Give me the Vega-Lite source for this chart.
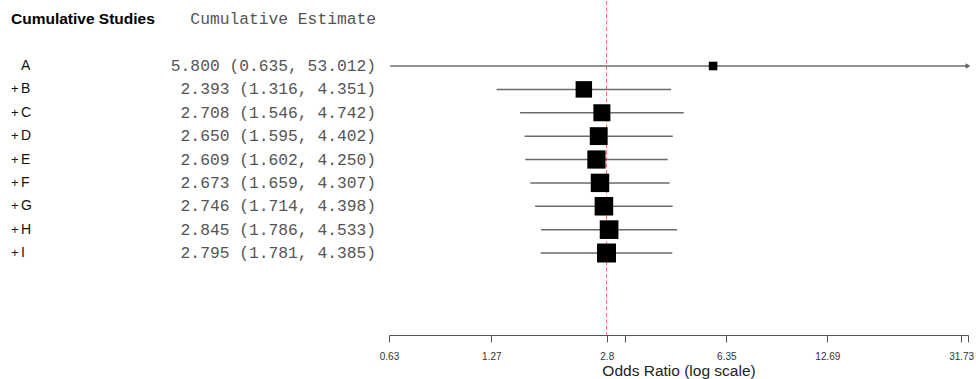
{
  "$schema": "https://vega.github.io/schema/vega-lite/v6.json",
  "background": "white",
  "padding": 0,
  "autosize": {"type": "pad"},
  "bounds": "flush",
  "spacing": 2,
  "config": {"view": {"stroke": null}},
  "data": {
    "values": [
      {"study": "A", "est": 5.800, "lower": 0.635, "upper": 53.012},
      {"study": "B", "est": 2.393, "lower": 1.316, "upper": 4.351},
      {"study": "C", "est": 2.708, "lower": 1.546, "upper": 4.742},
      {"study": "D", "est": 2.650, "lower": 1.595, "upper": 4.402},
      {"study": "E", "est": 2.609, "lower": 1.602, "upper": 4.250},
      {"study": "F", "est": 2.673, "lower": 1.659, "upper": 4.307},
      {"study": "G", "est": 2.746, "lower": 1.714, "upper": 4.398},
      {"study": "H", "est": 2.845, "lower": 1.786, "upper": 4.533},
      {"study": "I", "est": 2.795, "lower": 1.781, "upper": 4.385}
    ]
  },
  "transform": [
    {"window": [{"op": "row_number", "as": "k"}]},
    {"calculate": "datum.k == 1 ? '' : '+'", "as": "prefix"},
    {"calculate": "format(datum.est, '.3f') + ' (' + format(datum.lower, '.3f') + ', ' + format(datum.upper, '6.3f') + ')'", "as": "estText"},
    {"calculate": "1 / log(datum.upper / datum.lower)", "as": "precision"}
  ],
  "hconcat": [
    {
      "width": 387,
      "height": 334,
      "layer": [
        {
          "data": {"values": [{"header": "Cumulative Studies", "col": "studies"}]},
          "mark": {"type": "text", "align": "left", "baseline": "middle",
                   "font": "Liberation Sans", "fontWeight": "bold", "fontSize": 15.5, "color": "#000000"},
          "encoding": {
            "x": {"field": "col", "type": "nominal", "axis": null,
                  "scale": {"type": "point", "domain": ["studies", "estimate"], "padding": 0.0301}},
            "y": {"datum": -1, "type": "quantitative", "axis": null,
                  "scale": {"domain": [-1.781, 12.508], "reverse": true, "nice": false, "zero": false}},
            "text": {"field": "header"}
          }
        },
        {
          "data": {"values": [{"header": "Cumulative Estimate", "col": "estimate"}]},
          "mark": {"type": "text", "align": "right", "baseline": "middle",
                   "font": "Liberation Mono", "fontSize": 16.3, "color": "#555555"},
          "encoding": {
            "x": {"field": "col", "type": "nominal"},
            "y": {"datum": -1, "type": "quantitative"},
            "text": {"field": "header"}
          }
        },
        {
          "mark": {"type": "text", "align": "left", "baseline": "middle",
                   "font": "Liberation Sans", "fontSize": 13, "color": "#111111"},
          "encoding": {
            "x": {"datum": "studies", "type": "nominal"},
            "y": {"field": "k", "type": "quantitative"},
            "text": {"field": "prefix"}
          }
        },
        {
          "mark": {"type": "text", "align": "left", "baseline": "middle", "dx": 10,
                   "font": "Liberation Sans", "fontSize": 14, "color": "#111111"},
          "encoding": {
            "x": {"datum": "studies", "type": "nominal"},
            "y": {"field": "k", "type": "quantitative"},
            "text": {"field": "study"}
          }
        },
        {
          "mark": {"type": "text", "align": "right", "baseline": "middle",
                   "font": "Liberation Mono", "fontSize": 16.3, "color": "#555555"},
          "encoding": {
            "x": {"datum": "estimate", "type": "nominal"},
            "y": {"field": "k", "type": "quantitative"},
            "text": {"field": "estText"}
          }
        }
      ]
    },
    {
      "width": 579,
      "height": 334,
      "encoding": {
        "y": {"field": "k", "type": "quantitative", "axis": null,
              "scale": {"domain": [-1.781, 12.508], "reverse": true, "nice": false, "zero": false}}
      },
      "layer": [
        {
          "transform": [{"filter": "datum.study == 'I'"}],
          "mark": {"type": "rule", "color": "#ff6e6e", "strokeWidth": 1, "strokeDash": [4, 2.5]},
          "encoding": {
            "x": {"field": "est", "type": "quantitative"},
            "y": null
          }
        },
        {
          "mark": {"type": "rule", "color": "#6a6a6a", "strokeWidth": 1.5},
          "encoding": {
            "x": {"field": "lower", "type": "quantitative",
                  "title": "Odds Ratio (log scale)",
                  "scale": {"type": "log", "domain": [0.63, 33.25], "nice": false, "clamp": true},
                  "axis": {
                    "values": [0.63, 1.27, 2.8, 3.17, 6.35, 12.69, 31.73, 33.25],
                    "labelExpr": "datum.value == 3.17 || datum.value == 33.25 ? '' : format(datum.value, '.4~g')",
                    "grid": false,
                    "domainColor": "#555555", "domainWidth": 1,
                    "tickColor": "#555555", "tickWidth": 1, "tickSize": 7,
                    "labelFont": "Liberation Sans", "labelFontSize": 10, "labelColor": "#333333",
                    "labelPadding": 9, "labelFlush": false, "labelOverlap": false,
                    "titleFont": "Liberation Sans", "titleFontSize": 15.5, "titleFontWeight": "normal",
                    "titleColor": "#222222", "titlePadding": 2
                  }},
            "x2": {"field": "upper"}
          }
        },
        {
          "transform": [{"filter": "datum.upper > 33.25"}],
          "mark": {"type": "point", "shape": "triangle-right", "filled": true, "color": "#606060", "size": 30, "opacity": 1},
          "encoding": {
            "x": {"field": "upper", "type": "quantitative"}
          }
        },
        {
          "mark": {"type": "point", "shape": "square", "filled": true, "color": "#000000", "opacity": 1},
          "encoding": {
            "x": {"field": "est", "type": "quantitative"},
            "size": {"field": "precision", "type": "quantitative", "legend": null,
                     "scale": {"domain": [0, 1.11], "range": [0, 360]}}
          }
        }
      ]
    }
  ]
}
